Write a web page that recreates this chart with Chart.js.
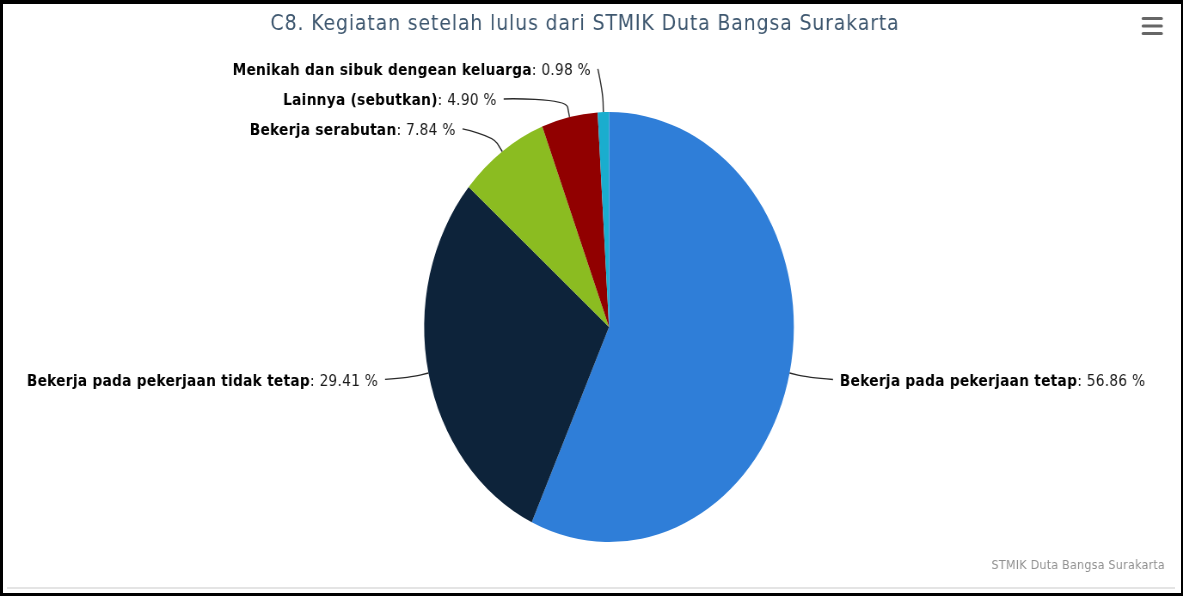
<!DOCTYPE html>
<html><head><meta charset="utf-8">
<script src="https://cdn.jsdelivr.net/npm/chart.js@4.4.1/dist/chart.umd.min.js"></script>
<style>
html,body{margin:0;padding:0;background:#fff;}
#stage{position:relative;width:1183px;height:596px;overflow:hidden;background:#fff;}
#wrap{position:absolute;left:0;top:0;width:1376px;height:596px;transform:scaleX(0.859738);transform-origin:0 0;}
#frame{position:absolute;left:0;top:0;width:1183px;height:596px;box-sizing:border-box;border-style:solid;border-color:#000;border-width:4px 2px 3px 3px;pointer-events:none;}
#rule{position:absolute;left:7px;top:587px;width:1168px;height:2px;background:#e4e4e4;}
</style></head>
<body>
<div id="stage"><div id="wrap"><canvas id="c"></canvas></div><div id="rule"></div><div id="frame"></div></div>
<script>
// ---- data ----
const categories = [
  'Bekerja pada pekerjaan tetap',
  'Bekerja pada pekerjaan tidak tetap',
  'Bekerja serabutan',
  'Lainnya (sebutkan)',
  'Menikah dan sibuk dengean keluarga'
];
const percentages = [56.86, 29.41, 7.84, 4.90, 0.98];
const sliceColors = ['#2f7ed8', '#0d233a', '#8bbc21', '#910000', '#1aadce'];
const titleText = 'C8. Kegiatan setelah lulus dari STMIK Duta Bangsa Surakarta';
const creditsText = 'STMIK Duta Bangsa Surakarta';

// ---- layout (canvas is drawn wide and squeezed horizontally) ----
const CW = 1376, CH = 596, S = 1183 / CW;
const PIE_CX = 609 / S, PIE_CY = 327, PIE_R = 215;
const LABEL_DIST = 30, SLOT = 30, LABEL_R_EXTRA = 38, LABEL_PAD = 21, GAP = 8;
const FONT = '"DejaVu Sans", "Liberation Sans", sans-serif';

function setSpacing(ctx, v) { try { ctx.letterSpacing = v; } catch (e) {} }

function distribute(list) {
  let clusters = list.map(it => ({ items: [it], mean: it.ny }));
  const top = c => c.mean - (c.items.length - 1) * SLOT / 2;
  let changed = true;
  while (changed) {
    changed = false;
    for (let i = 0; i < clusters.length - 1; i++) {
      const a = clusters[i], b = clusters[i + 1];
      const aBottom = top(a) + (a.items.length - 1) * SLOT;
      if (top(b) - aBottom < SLOT) {
        const items = a.items.concat(b.items);
        const mean = items.reduce((s, it) => s + it.ny, 0) / items.length;
        clusters.splice(i, 2, { items, mean });
        changed = true;
        break;
      }
    }
  }
  clusters.forEach(c => c.items.forEach((it, k) => { it.y = top(c) + k * SLOT; }));
}

const decorPlugin = {
  id: 'decor',
  afterDatasetsDraw(chart) {
    const ctx = chart.ctx;
    const arcs = chart.getDatasetMeta(0).data;
    const cx = arcs[0].x, cy = arcs[0].y, r = arcs[0].outerRadius;
    const items = arcs.map((arc, i) => {
      const mid = (arc.startAngle + arc.endAngle) / 2;
      const c = Math.cos(mid), s = Math.sin(mid);
      return {
        i, right: c >= 0,
        ny: cy + s * (r + LABEL_DIST),
        edge: { x: cx + c * r, y: cy + s * r },
        brk: { x: cx + c * (r + 10), y: cy + s * (r + 10) }
      };
    });
    [true, false].forEach(side => {
      const list = items.filter(it => it.right === side).sort((a, b) => a.ny - b.ny);
      distribute(list);
    });
    const RL = r + LABEL_R_EXTRA;
    ctx.save();
    items.forEach(it => {
      const dy = it.y - cy;
      const off = Math.sqrt(Math.max(0, RL * RL - dy * dy)) + LABEL_PAD;
      const sign = it.right ? 1 : -1;
      const lx = cx + sign * off;
      // connector
      const sx = lx - sign * GAP;
      ctx.beginPath();
      ctx.moveTo(sx, it.y);
      ctx.bezierCurveTo(sx, it.y, 2 * it.brk.x - it.edge.x, 2 * it.brk.y - it.edge.y, it.brk.x, it.brk.y);
      ctx.lineTo(it.edge.x, it.edge.y);
      ctx.strokeStyle = '#2a2a2a';
      ctx.lineWidth = 1.4;
      ctx.stroke();
      // label text
      const name = categories[it.i];
      const val = ': ' + percentages[it.i].toFixed(2) + ' %';
      const boldF = 'bold 16px ' + FONT, regF = '16px ' + FONT;
      setSpacing(ctx, '0.3px');
      ctx.textBaseline = 'middle';
      ctx.textAlign = 'left';
      ctx.fillStyle = '#000000';
      ctx.font = boldF; const wn = ctx.measureText(name).width;
      ctx.font = regF; const wv = ctx.measureText(val).width;
      const x0 = it.right ? lx : lx - wn - wv;
      const ty = it.y + 2;
      ctx.font = boldF; ctx.fillText(name, x0, ty);
      ctx.font = regF; ctx.fillStyle = '#1a1a1a'; ctx.fillText(val, x0 + wn, ty);
      setSpacing(ctx, '0px');
    });
    // title
    ctx.font = '22px ' + FONT;
    ctx.fillStyle = '#3e576f';
    ctx.textAlign = 'center';
    ctx.textBaseline = 'middle';
    setSpacing(ctx, '1px');
    ctx.fillText(titleText, 585 / S, 24);
    setSpacing(ctx, '0px');
    // credits
    ctx.font = '13px ' + FONT;
    ctx.fillStyle = '#909090';
    ctx.textAlign = 'right';
    setSpacing(ctx, '0.25px');
    ctx.fillText(creditsText, 1165 / S, 566);
    setSpacing(ctx, '0px');
    // export menu icon
    ctx.strokeStyle = '#666666';
    ctx.lineWidth = 3.2;
    ctx.lineCap = 'round';
    [18.5, 26, 33.5].forEach(y => {
      ctx.beginPath();
      ctx.moveTo(1143 / S, y);
      ctx.lineTo(1161.5 / S, y);
      ctx.stroke();
    });
    ctx.restore();
  }
};

new Chart(document.getElementById('c'), {
  type: 'pie',
  data: {
    labels: categories,
    datasets: [{
      data: percentages,
      backgroundColor: sliceColors,
      borderWidth: 0
    }]
  },
  options: {
    responsive: true,
    maintainAspectRatio: false,
    animation: false,
    layout: {
      padding: {
        top: PIE_CY - PIE_R,
        bottom: CH - PIE_CY - PIE_R,
        left: PIE_CX - PIE_R,
        right: CW - PIE_CX - PIE_R
      }
    },
    plugins: { legend: { display: false }, tooltip: { enabled: false }, title: { display: false } }
  },
  plugins: [decorPlugin]
});
</script>
</body></html>
